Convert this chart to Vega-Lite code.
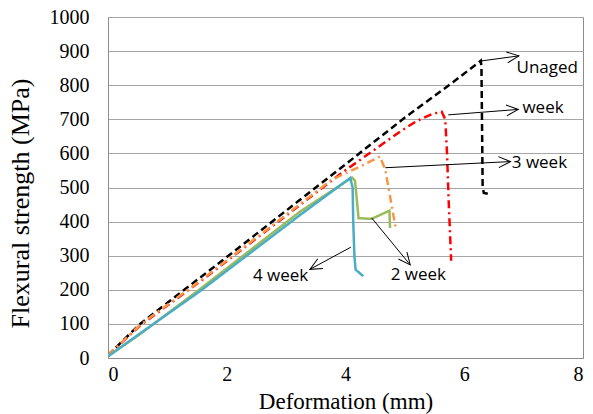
{
  "$schema": "https://vega.github.io/schema/vega-lite/v6.json",
  "width": 475,
  "height": 341,
  "autosize": {"type": "none"},
  "padding": {"left": 108, "top": 17, "right": 10, "bottom": 56},
  "background": "white",
  "config": {"view": {"stroke": "#8C8C8C", "strokeWidth": 1}},
  "datasets": {
    "curves": [
      {"series": "Unaged", "i": 0, "x": 0, "y": 8},
      {"series": "Unaged", "i": 1, "x": 0.54, "y": 100},
      {"series": "Unaged", "i": 2, "x": 2, "y": 296},
      {"series": "Unaged", "i": 3, "x": 4, "y": 568},
      {"series": "Unaged", "i": 4, "x": 5, "y": 705},
      {"series": "Unaged", "i": 5, "x": 5.82, "y": 810},
      {"series": "Unaged", "i": 6, "x": 6.28, "y": 872},
      {"series": "Unaged", "i": 7, "x": 6.29, "y": 850},
      {"series": "Unaged", "i": 8, "x": 6.31, "y": 500},
      {"series": "Unaged", "i": 9, "x": 6.33, "y": 484},
      {"series": "Unaged", "i": 10, "x": 6.46, "y": 479},
      {"series": "week", "i": 0, "x": 0, "y": 8},
      {"series": "week", "i": 1, "x": 0.54, "y": 95},
      {"series": "week", "i": 2, "x": 1.58, "y": 228},
      {"series": "week", "i": 3, "x": 3.97, "y": 547},
      {"series": "week", "i": 4, "x": 4.92, "y": 664},
      {"series": "week", "i": 5, "x": 5.2, "y": 695},
      {"series": "week", "i": 6, "x": 5.45, "y": 715},
      {"series": "week", "i": 7, "x": 5.62, "y": 722},
      {"series": "week", "i": 8, "x": 5.68, "y": 700},
      {"series": "week", "i": 9, "x": 5.71, "y": 600},
      {"series": "week", "i": 10, "x": 5.74, "y": 450},
      {"series": "week", "i": 11, "x": 5.78, "y": 285},
      {"series": "3 week", "i": 0, "x": 0, "y": 8},
      {"series": "3 week", "i": 1, "x": 0.54, "y": 97},
      {"series": "3 week", "i": 2, "x": 1.58, "y": 230},
      {"series": "3 week", "i": 3, "x": 3.77, "y": 523},
      {"series": "3 week", "i": 4, "x": 4.19, "y": 557},
      {"series": "3 week", "i": 5, "x": 4.4, "y": 575},
      {"series": "3 week", "i": 6, "x": 4.58, "y": 591},
      {"series": "3 week", "i": 7, "x": 4.67, "y": 552},
      {"series": "3 week", "i": 8, "x": 4.74, "y": 484},
      {"series": "3 week", "i": 9, "x": 4.84, "y": 386},
      {"series": "2 week", "i": 0, "x": 0, "y": 5},
      {"series": "2 week", "i": 1, "x": 0.54, "y": 70},
      {"series": "2 week", "i": 2, "x": 1.55, "y": 202},
      {"series": "2 week", "i": 3, "x": 3.24, "y": 430},
      {"series": "2 week", "i": 4, "x": 4.11, "y": 529},
      {"series": "2 week", "i": 5, "x": 4.16, "y": 520},
      {"series": "2 week", "i": 6, "x": 4.22, "y": 410},
      {"series": "2 week", "i": 7, "x": 4.44, "y": 408},
      {"series": "2 week", "i": 8, "x": 4.74, "y": 432},
      {"series": "2 week", "i": 9, "x": 4.75, "y": 381},
      {"series": "4 week", "i": 0, "x": 0, "y": 5},
      {"series": "4 week", "i": 1, "x": 0.54, "y": 72},
      {"series": "4 week", "i": 2, "x": 1.55, "y": 196},
      {"series": "4 week", "i": 3, "x": 3.24, "y": 420},
      {"series": "4 week", "i": 4, "x": 4.08, "y": 528},
      {"series": "4 week", "i": 5, "x": 4.12, "y": 500},
      {"series": "4 week", "i": 6, "x": 4.13, "y": 400},
      {"series": "4 week", "i": 7, "x": 4.15, "y": 300},
      {"series": "4 week", "i": 8, "x": 4.17, "y": 259},
      {"series": "4 week", "i": 9, "x": 4.3, "y": 240}
    ],
    "arrows": [
      {"label": "Unaged", "x": 6.28, "y": 871, "x2": 6.92, "y2": 886},
      {"label": "week", "x": 5.73, "y": 713, "x2": 6.91, "y2": 729},
      {"label": "3 week", "x": 4.67, "y": 558, "x2": 6.78, "y2": 576},
      {"label": "2 week", "x": 4.44, "y": 411, "x2": 5.09, "y2": 273},
      {"label": "4 week", "x": 4.09, "y": 325, "x2": 3.4, "y2": 260}
    ],
    "heads": [
      {"label": "Unaged", "x": 6.92, "y": 886, "angle": -7.5},
      {"label": "week", "x": 6.91, "y": 729, "angle": -4.7},
      {"label": "3 week", "x": 6.78, "y": 576, "angle": -2.7},
      {"label": "2 week", "x": 5.09, "y": 273, "angle": 51},
      {"label": "4 week", "x": 3.4, "y": 260, "angle": 151.6}
    ],
    "labels": [
      {"label": "Unaged", "x": 6.88, "y": 850},
      {"label": "week", "x": 6.98, "y": 733},
      {"label": "3 week", "x": 6.8, "y": 572},
      {"label": "2 week", "x": 4.76, "y": 243},
      {"label": "4 week", "x": 2.44, "y": 241}
    ]
  },
  "encoding": {
    "x": {
      "field": "x", "type": "quantitative",
      "scale": {"domain": [0, 8], "nice": false, "zero": false},
      "axis": {
        "title": "Deformation (mm)", "values": [0, 2, 4, 6, 8], "format": "d", "grid": false,
        "tickSize": 0, "labelPadding": 6, "domainColor": "#8C8C8C",
        "labelFont": "Liberation Serif", "labelFontSize": 20, "labelColor": "#000",
        "titleFont": "Liberation Serif", "titleFontSize": 23, "titleFontWeight": "normal", "titleColor": "#000",
        "titleY": 50, "titleBaseline": "alphabetic"
      }
    },
    "y": {
      "field": "y", "type": "quantitative",
      "scale": {"domain": [0, 1000], "nice": false},
      "axis": {
        "title": "Flexural strength (MPa)", "values": [0, 100, 200, 300, 400, 500, 600, 700, 800, 900, 1000], "format": "d",
        "grid": true, "gridColor": "#A6A6A6", "gridWidth": 1,
        "tickSize": 0, "labelPadding": 19, "domainColor": "#8C8C8C",
        "labelFont": "Liberation Serif", "labelFontSize": 20, "labelColor": "#000",
        "titleFont": "Liberation Serif", "titleFontSize": 26, "titleFontWeight": "normal", "titleColor": "#000",
        "titleX": -75, "titleY": 186
      }
    }
  },
  "layer": [
    {
      "data": {"name": "curves"},
      "mark": {"type": "line", "clip": true},
      "encoding": {
        "order": {"field": "i", "type": "quantitative"},
        "color": {
          "field": "series", "type": "nominal",
          "scale": {"domain": ["Unaged", "week", "3 week", "2 week", "4 week"], "range": ["#000000", "#FF0000", "#F79646", "#9BBB59", "#4BACC6"]},
          "legend": null
        },
        "strokeDash": {
          "field": "series", "type": "nominal",
          "scale": {"domain": ["Unaged", "week", "3 week", "2 week", "4 week"], "range": [[7, 4], [8, 4, 2, 4], [8, 4, 2, 4], [1, 0], [1, 0]]},
          "legend": null
        },
        "strokeWidth": {
          "field": "series", "type": "ordinal",
          "scale": {"domain": ["Unaged", "week", "3 week", "2 week", "4 week"], "range": [2.5, 2.5, 2, 3, 2.5]},
          "legend": null
        }
      }
    },
    {
      "data": {"name": "arrows"},
      "mark": {"type": "rule", "color": "#000", "strokeWidth": 1},
      "encoding": {
        "x2": {"field": "x2"},
        "y2": {"field": "y2"}
      }
    },
    {
      "data": {"name": "heads"},
      "mark": {"type": "point", "shape": "M-1.2,-0.55L0,0L-1.2,0.55", "filled": false, "stroke": "#000", "strokeWidth": 1, "size": 400, "opacity": 1},
      "encoding": {
        "angle": {"field": "angle", "type": "quantitative", "scale": null}
      }
    },
    {
      "data": {"name": "labels"},
      "mark": {"type": "text", "align": "left", "baseline": "middle", "font": "Open Sans", "fontSize": 17, "color": "#000"},
      "encoding": {
        "text": {"field": "label"}
      }
    }
  ]
}
